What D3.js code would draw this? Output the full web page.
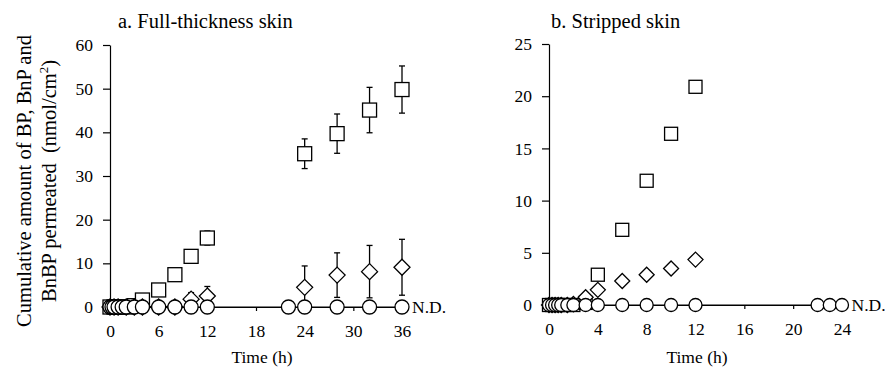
<!DOCTYPE html>
<html>
<head>
<meta charset="utf-8">
<script src="https://cdn.jsdelivr.net/npm/d3@7"></script>
<style>
  body { margin: 0; background: #fff; }
  svg { display: block; font-family: "Liberation Serif", "Times New Roman", serif; }
  .axis path, .axis line { stroke: #000; stroke-width: 1.2; }
  .axis text { font-size: 17.5px; fill: #000; font-family: "Liberation Serif", serif; }
</style>
</head>
<body>
<div id="chart"></div>
<script>
// Panel a: full-thickness skin
const timesA = [0, 0.5, 1, 2, 3, 4, 6, 8, 10, 12, 24, 28, 32, 36];
const bpA = [0, 0, 0, 0, 0.3, 1.6, 3.9, 7.4, 11.6, 15.8, 35.1, 39.7, 45.1, 49.8];
const bpErrA = [0, 0, 0, 0, 0, 0, 0, 0, 0, 1.6, 3.4, 4.5, 5.2, 5.4];
const bnpA = [0, 0, 0, 0, 0, 0, 0, 0, 1.8, 2.5, 4.5, 7.3, 8.1, 9.1];
const bnpErrA = [0, 0, 0, 0, 0, 0, 0, 0, 1.5, 2.2, 4.9, 5.1, 6.0, 6.4];
const timesNdA = [0, 0.25, 0.5, 1, 1.5, 2, 3, 4, 6, 8, 10, 12, 22, 24, 28, 32, 36];
const xTicksA = [0, 6, 12, 18, 24, 30, 36];
const yTicksA = [0, 10, 20, 30, 40, 50, 60];

// Panel b: stripped skin
const timesB = [0, 0.25, 0.5, 0.75, 1, 1.5, 2, 3, 4, 6, 8, 10, 12];
const bpB = [0, 0, 0, 0, 0, 0, 0, 0.2, 2.9, 7.2, 11.9, 16.4, 20.9];
const bnpB = [0, 0, 0, 0, 0, 0, 0.1, 0.75, 1.45, 2.3, 2.9, 3.5, 4.35];
const timesNdB = [0, 0.25, 0.5, 0.75, 1, 1.5, 2, 3, 4, 6, 8, 10, 12, 22, 23, 24];
const xTicksB = [0, 4, 8, 12, 16, 20, 24];
const yTicksB = [0, 5, 10, 15, 20, 25];

const svg = d3.select("#chart").append("svg")
    .attr("width", 896)
    .attr("height", 373);

// y axis title (shared, on the left)
const yTitle = svg.append("g").attr("transform", "translate(0,181) rotate(-90)");
yTitle.append("text").attr("x", 0).attr("y", 31)
    .attr("text-anchor", "middle").style("font-size", "20.5px")
    .text("Cumulative amount of BP, BnP and");
const l2 = yTitle.append("text").attr("x", 0).attr("y", 56)
    .attr("text-anchor", "middle").style("font-size", "20.5px")
    .attr("xml:space", "preserve");
l2.append("tspan").text("BnBP permeated  (nmol/cm");
l2.append("tspan").attr("dy", -8).style("font-size", "13px").text("2");
l2.append("tspan").attr("dy", 8).text(")");

function panel(cfg) {
    const x = d3.scaleLinear().domain(cfg.xDomain).range(cfg.xRange);
    const y = d3.scaleLinear().domain(cfg.yDomain).range(cfg.yRange);
    const g = svg.append("g");

    g.append("g").attr("class", "axis")
        .attr("transform", `translate(0,${cfg.yRange[0]})`)
        .call(d3.axisBottom(x).tickValues(cfg.xTicks).tickSizeInner(4).tickSizeOuter(0).tickPadding(14))
        .selectAll("text").attr("dy", "0.71em");

    g.append("g").attr("class", "axis")
        .attr("transform", `translate(${cfg.xRange[0]},0)`)
        .call(d3.axisLeft(y).tickValues(cfg.yTicks).tickSizeInner(7).tickSizeOuter(0).tickPadding(10));

    g.append("text")
        .attr("x", cfg.titleX).attr("y", 28)
        .style("font-size", "20.5px")
        .text(cfg.title);

    g.append("text")
        .attr("x", cfg.xLabelX).attr("y", 363)
        .attr("text-anchor", "middle")
        .style("font-size", "17.5px")
        .text("Time (h)");

    // error bars
    const errs = [];
    cfg.series.forEach(s => {
        if (!s.err) return;
        s.times.forEach((t, i) => { if (s.err[i] > 0) errs.push({ t, v: s.vals[i], e: s.err[i] }); });
    });
    const eg = g.append("g").attr("stroke", "#000").attr("stroke-width", 1.3);
    eg.selectAll("line.v").data(errs).join("line").attr("class", "v")
        .attr("x1", d => x(d.t)).attr("x2", d => x(d.t))
        .attr("y1", d => y(d.v - d.e)).attr("y2", d => y(d.v + d.e));
    eg.selectAll("line.top").data(errs).join("line").attr("class", "top")
        .attr("x1", d => x(d.t) - 3).attr("x2", d => x(d.t) + 3)
        .attr("y1", d => y(d.v + d.e)).attr("y2", d => y(d.v + d.e));
    eg.selectAll("line.bot").data(errs).join("line").attr("class", "bot")
        .attr("x1", d => x(d.t) - 3).attr("x2", d => x(d.t) + 3)
        .attr("y1", d => y(d.v - d.e)).attr("y2", d => y(d.v - d.e));

    // BP squares
    const sq = cfg.series[0];
    g.append("g").selectAll("rect")
        .data(sq.times.map((t, i) => ({ t, v: sq.vals[i] })))
        .join("rect")
        .attr("x", d => x(d.t) - cfg.size / 2)
        .attr("y", d => y(d.v) - cfg.size / 2)
        .attr("width", cfg.size).attr("height", cfg.size)
        .attr("fill", "#fff").attr("stroke", "#000").attr("stroke-width", 1.3);

    // BnP diamonds
    const dm = cfg.series[1];
    const h = cfg.size / 2 + 1;
    g.append("g").selectAll("path")
        .data(dm.times.map((t, i) => ({ t, v: dm.vals[i] })))
        .join("path")
        .attr("d", d => `M${x(d.t)},${y(d.v) - h}L${x(d.t) + h},${y(d.v)}L${x(d.t)},${y(d.v) + h}L${x(d.t) - h},${y(d.v)}Z`)
        .attr("fill", "#fff").attr("stroke", "#000").attr("stroke-width", 1.3);

    // BnBP circles (not detected)
    const nd = cfg.ndTimes.map(t => ({ t, v: 0 }));
    g.append("path").datum(nd)
        .attr("d", d3.line().x(d => x(d.t)).y(d => y(d.v)))
        .attr("fill", "none").attr("stroke", "#000").attr("stroke-width", 1.2);
    g.append("g").selectAll("circle")
        .data(nd).join("circle")
        .attr("cx", d => x(d.t)).attr("cy", d => y(d.v))
        .attr("r", cfg.size / 2)
        .attr("fill", "#fff").attr("stroke", "#000").attr("stroke-width", 1.3);

    g.append("text")
        .attr("x", x(cfg.xDomain[1]) + cfg.size / 2 + 3)
        .attr("y", y(0) + 6)
        .style("font-size", "17.5px")
        .text("N.D.");
}

panel({
    xDomain: [0, 36], xRange: [110, 402],
    yDomain: [0, 60], yRange: [307, 45],
    xTicks: xTicksA, yTicks: yTicksA,
    title: "a. Full-thickness skin", titleX: 118, xLabelX: 262,
    size: 14,
    series: [
        { times: timesA, vals: bpA, err: bpErrA },
        { times: timesA, vals: bnpA, err: bnpErrA }
    ],
    ndTimes: timesNdA
});

panel({
    xDomain: [0, 24], xRange: [549, 842],
    yDomain: [0, 25], yRange: [305, 44],
    xTicks: xTicksB, yTicks: yTicksB,
    title: "b. Stripped skin", titleX: 551, xLabelX: 697,
    size: 13,
    series: [
        { times: timesB, vals: bpB },
        { times: timesB, vals: bnpB }
    ],
    ndTimes: timesNdB
});
</script>
</body>
</html>
